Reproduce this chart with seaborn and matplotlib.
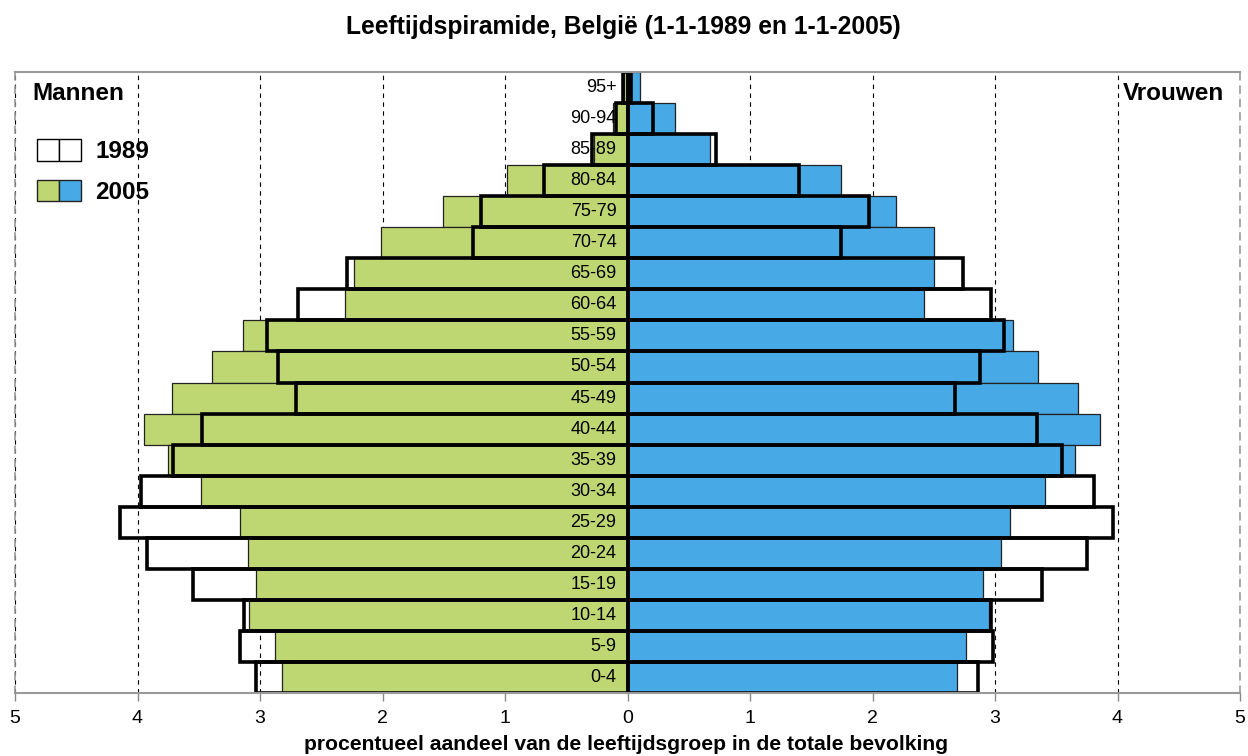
import matplotlib
matplotlib.use("Agg")
import matplotlib.pyplot as plt
import seaborn as sns
import pandas as pd
from matplotlib.patches import Patch
from matplotlib.legend_handler import HandlerTuple

# ====== data (percent of total population) ======
ages = ["95+", "90-94", "85-89", "80-84", "75-79", "70-74", "65-69", "60-64",
        "55-59", "50-54", "45-49", "40-44", "35-39", "30-34", "25-29", "20-24",
        "15-19", "10-14", "5-9", "0-4"]
men_2005 = [0.03, 0.12, 0.27, 0.98, 1.51, 2.01, 2.23, 2.31, 3.14, 3.39,
            3.72, 3.95, 3.75, 3.48, 3.16, 3.10, 3.03, 3.09, 2.88, 2.82]
men_1989 = [0.04, 0.09, 0.29, 0.68, 1.20, 1.26, 2.29, 2.69, 2.94, 2.85,
            2.71, 3.47, 3.71, 3.97, 4.14, 3.92, 3.55, 3.13, 3.16, 3.03]
women_2005 = [0.10, 0.39, 0.67, 1.74, 2.19, 2.50, 2.50, 2.42, 3.15, 3.35,
              3.68, 3.86, 3.65, 3.41, 3.12, 3.05, 2.90, 2.95, 2.76, 2.69]
women_1989 = [0.03, 0.21, 0.72, 1.40, 1.97, 1.74, 2.74, 2.97, 3.07, 2.88,
              2.67, 3.34, 3.55, 3.81, 3.96, 3.75, 3.38, 2.97, 2.98, 2.86]
xticks = [-5, -4, -3, -2, -1, 0, 1, 2, 3, 4, 5]

green = "#bfd773"
blue = "#47aae6"

df = pd.DataFrame({
    "age": ages,
    "men_2005": [-v for v in men_2005],
    "men_1989": [-v for v in men_1989],
    "women_2005": women_2005,
    "women_1989": women_1989,
})

sns.set_theme(style="white")
plt.rcParams["font.family"] = ["Liberation Sans", "DejaVu Sans"]
plt.rcParams["text.color"] = "black"
plt.rcParams["xtick.labelcolor"] = "black"

W, H = 1248, 756
fig = plt.figure(figsize=(W / 100, H / 100), dpi=100)
ax = fig.add_axes([15 / W, 1 - 693 / H, 1225 / W, 621 / H])

# 2005 filled bars
sns.barplot(data=df, x="men_2005", y="age", order=ages, orient="h", color=green,
            width=1, edgecolor="#222222", linewidth=0.9, errorbar=None,
            saturation=1, ax=ax)
sns.barplot(data=df, x="women_2005", y="age", order=ages, orient="h", color=blue,
            width=1, edgecolor="#222222", linewidth=0.9, errorbar=None,
            saturation=1, ax=ax)
# 1989 outlines on top
sns.barplot(data=df, x="men_1989", y="age", order=ages, orient="h", color="black",
            fill=False, width=1, linewidth=2.6, errorbar=None, ax=ax)
sns.barplot(data=df, x="women_1989", y="age", order=ages, orient="h", color="black",
            fill=False, width=1, linewidth=2.6, errorbar=None, ax=ax)

ax.set_xlim(-5, 5)
ax.set_ylim(len(ages) - 0.5, -0.5)
ax.set_xticks(xticks)
ax.set_xticklabels([str(abs(v)) for v in xticks], fontsize=14, color="black")
ax.set_yticks([])
ax.set_xlabel("")
ax.set_ylabel("")
ax.set_axisbelow(True)
ax.xaxis.grid(True, color="black", linestyle=(0, (4, 4)), linewidth=0.8)
ax.tick_params(axis="x", bottom=True, length=6, width=1, color="#888888",
               direction="out", pad=6)

for side in ["top", "bottom"]:
    ax.spines[side].set_color("#999999")
    ax.spines[side].set_linewidth(1.5)
for side in ["left", "right"]:
    ax.spines[side].set_color("#999999")
    ax.spines[side].set_linestyle((0, (4, 4)))
    ax.spines[side].set_linewidth(1.2)

# age group labels
for i, a in enumerate(ages):
    ax.text(-0.09, i, a, ha="right", va="center", fontsize=13, color="black")

# legend
handles = [
    (Patch(facecolor="white", edgecolor="black"), Patch(facecolor="white", edgecolor="black")),
    (Patch(facecolor=green, edgecolor="#222222"), Patch(facecolor=blue, edgecolor="#222222")),
]
fig.legend(handles, ["1989", "2005"],
           handler_map={tuple: HandlerTuple(ndivide=None, pad=0)},
           loc="upper left", bbox_to_anchor=(37 / W, 1 - 139 / H),
           bbox_transform=fig.transFigure, frameon=False, borderpad=0,
           borderaxespad=0, handlelength=1.8, handleheight=1.0,
           handletextpad=0.6, labelspacing=0.68,
           prop={"weight": "bold", "size": 17.5})

fig.text(32 / W, 1 - 94 / H, "Mannen", ha="left", va="center",
         fontsize=17.5, weight="bold")
fig.text(1224 / W, 1 - 94 / H, "Vrouwen", ha="right", va="center",
         fontsize=17.5, weight="bold")
fig.text(623 / W, 1 - 27 / H, "Leeftijdspiramide, België (1-1-1989 en 1-1-2005)",
         ha="center", va="center", fontsize=17.7, weight="bold")
fig.text(626 / W, 1 - 745 / H,
         "procentueel aandeel van de leeftijdsgroep in de totale bevolking",
         ha="center", va="center", fontsize=15.2, weight="bold")

fig.savefig("out.png", dpi=100)
